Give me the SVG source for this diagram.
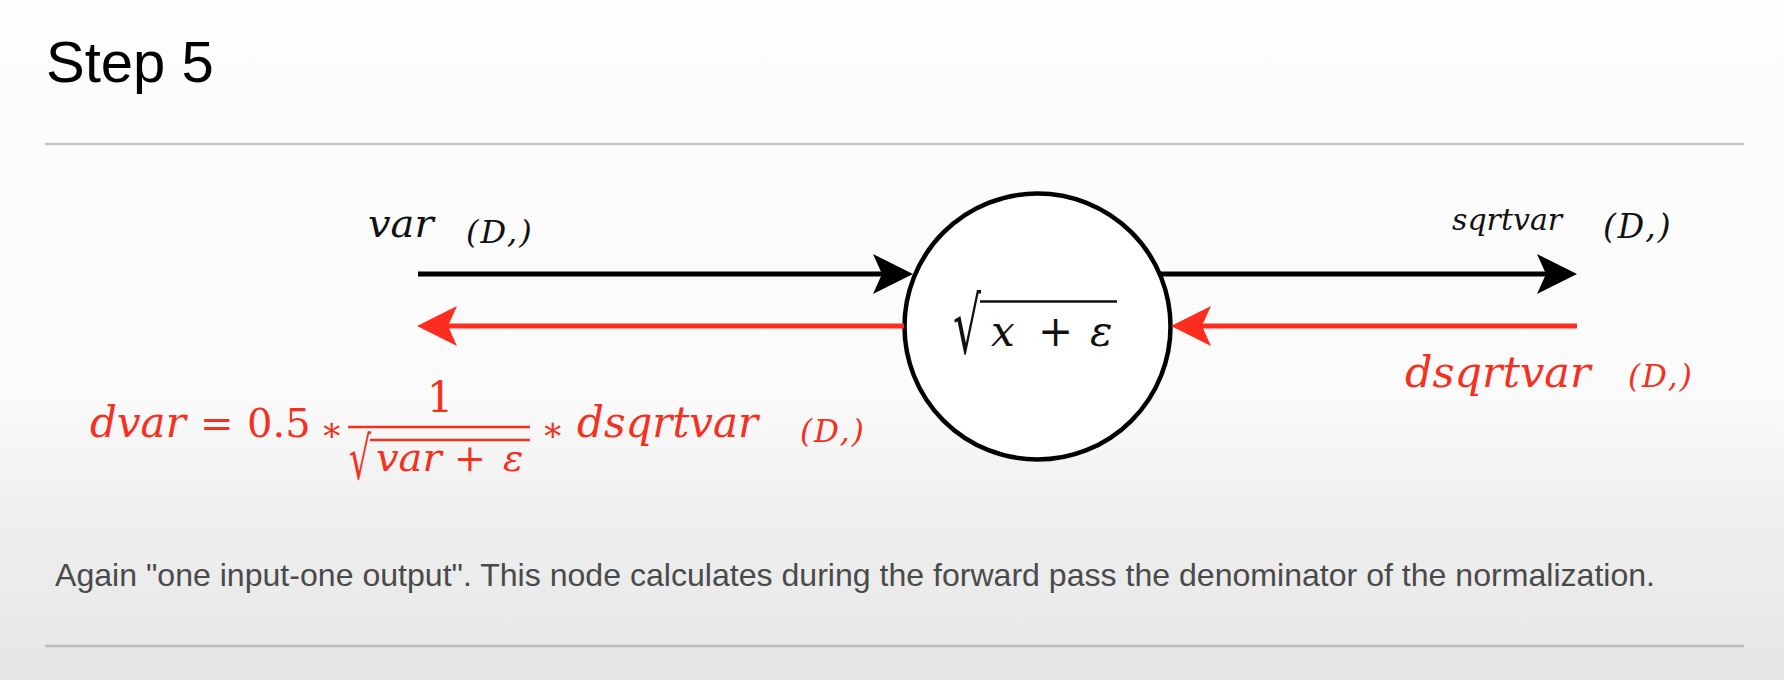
<svg xmlns="http://www.w3.org/2000/svg" width="1784" height="680" viewBox="0 0 1784 680">
<defs>
<linearGradient id="bg" x1="0" y1="0" x2="0" y2="680" gradientUnits="userSpaceOnUse">
<stop offset="0" stop-color="#fdfdfd"/>
<stop offset="0.58" stop-color="#fbfbfb"/>
<stop offset="0.72" stop-color="#f1f1f1"/>
<stop offset="1" stop-color="#e6e6e6"/>
</linearGradient>
<marker id="ahB" viewBox="-42 -22 44 44" markerWidth="44" markerHeight="44" markerUnits="userSpaceOnUse" refX="-31" refY="0" orient="auto">
<path d="M0,0 L-40,-20 L-31,0 L-40,20 Z" fill="#000"/>
</marker>
<marker id="ahR" viewBox="-42 -22 44 44" markerWidth="44" markerHeight="44" markerUnits="userSpaceOnUse" refX="-31" refY="0" orient="auto">
<path d="M0,0 L-40,-20 L-31,0 L-40,20 Z" fill="#ff2d1f"/>
</marker>
</defs>
<style>
.sans{font-family:"Liberation Sans",Arial,sans-serif}
.mi{font-family:"DejaVu Serif",serif;font-style:italic}
.mu{font-family:"DejaVu Serif",serif;font-style:normal}
.red{fill:#f5301e}
.blk{fill:#111}
.fwd{stroke:#000;stroke-width:5;fill:none}
.bwd{stroke:#ff2d1f;stroke-width:5;fill:none}
.rule{stroke:#c6c6c6;stroke-width:2.5}
</style>
<rect x="0" y="0" width="1784" height="680" fill="url(#bg)"/>

<g id="header">
<text class="sans" x="46" y="82" font-size="58" fill="#000">Step 5</text>
<line class="rule" x1="45" y1="144" x2="1744" y2="144"/>
</g>

<g id="node-sqrt">
<circle cx="1037.5" cy="326.5" r="133" fill="#fff" stroke="#000" stroke-width="4.5"/>
<text class="mu blk" x="953" y="353" font-size="78" textLength="28" lengthAdjust="spacingAndGlyphs">√</text>
<line x1="980" y1="301.5" x2="1117" y2="301.5" stroke="#111" stroke-width="2.5"/>
<text class="blk" y="346" font-size="42"><tspan class="mi" x="991">x</tspan><tspan class="mu" x="1038">+</tspan><tspan class="mi" x="1090">ε</tspan></text>
</g>

<g id="connectors">
<line class="fwd" x1="418" y1="274" x2="882" y2="274" marker-end="url(#ahB)"/>
<line class="bwd" x1="904" y1="326" x2="448" y2="326" marker-end="url(#ahR)"/>
<line class="fwd" x1="1160" y1="274" x2="1546" y2="274" marker-end="url(#ahB)"/>
<line class="bwd" x1="1577" y1="326" x2="1202" y2="326" marker-end="url(#ahR)"/>
</g>

<g id="label-var">
<text class="mi blk" x="368" y="237" font-size="40">var</text>
<text class="mi blk" x="466" y="243" font-size="32" letter-spacing="2">(D,)</text>
</g>

<g id="label-sqrtvar">
<text class="mi blk" x="1452" y="230" font-size="30">sqrtvar</text>
<text class="mi blk" x="1603" y="238" font-size="33" letter-spacing="2">(D,)</text>
</g>

<g id="label-dsqrtvar">
<text class="mi red" x="1405" y="387" font-size="43">dsqrtvar</text>
<text class="mi red" x="1628" y="387" font-size="31" letter-spacing="2">(D,)</text>
</g>

<g id="label-dvar">
<text class="mi red" x="90" y="437" font-size="42">dvar</text>
<text class="mu red" x="200" y="437" font-size="40">=</text>
<text class="mu red" x="247" y="437" font-size="40">0.5</text>
<text class="mu red" x="320" y="441" font-size="34">∗</text>
<line x1="348" y1="427" x2="530" y2="427" stroke="#f5301e" stroke-width="2.5"/>
<text class="mu red" x="440" y="412" font-size="42" text-anchor="middle">1</text>
<text class="mu red" x="349" y="479" font-size="59" textLength="22" lengthAdjust="spacingAndGlyphs">√</text>
<line x1="370" y1="440" x2="530" y2="440" stroke="#f5301e" stroke-width="2.5"/>
<text class="red" y="471" font-size="38"><tspan class="mi" x="376" font-size="40">var</tspan><tspan class="mu" x="454">+</tspan><tspan class="mi" x="503">ε</tspan></text>
<text class="mu red" x="541" y="441" font-size="34">∗</text>
<text class="mi red" x="577" y="437" font-size="42">dsqrtvar</text>
<text class="mi red" x="800" y="442" font-size="31" letter-spacing="2">(D,)</text>
</g>

<g id="caption">
<text class="sans" x="55" y="586" font-size="32" fill="#4a4a4a" textLength="1600" lengthAdjust="spacingAndGlyphs">Again "one input-one output". This node calculates during the forward pass the denominator of the normalization.</text>
<line x1="45" y1="646" x2="1744" y2="646" stroke="#b9b9b9" stroke-width="2.5"/>
</g>
</svg>
